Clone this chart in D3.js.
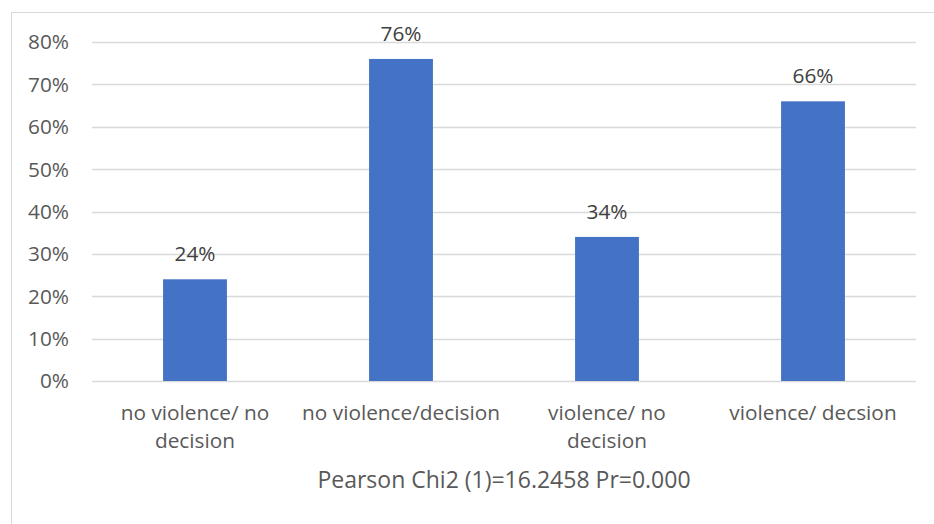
<!DOCTYPE html>
<html><head><meta charset="utf-8">
<script src="https://cdn.jsdelivr.net/npm/d3@7"></script>
<style>body{margin:0;background:#fff}svg{display:block}</style>
</head><body>
<script>
const categories = [["no violence/ no","decision"],["no violence/decision"],["violence/ no","decision"],["violence/ decsion"]];
const values = [0.24, 0.76, 0.34, 0.66];
const yTicks = [0,0.1,0.2,0.3,0.4,0.5,0.6,0.7,0.8];
const title = "Pearson Chi2 (1)=16.2458 Pr=0.000";

const W=934,H=524;
const m={left:92,right:18,top:42,bottom:143};
const svg=d3.select("body").append("svg").attr("width",W).attr("height",H);
svg.append("rect").attr("x",11.5).attr("y",12.5).attr("width",W).attr("height",H).attr("fill","#fff").attr("stroke","#d9d9d9");
const font="'Open Sans', sans-serif";
const fs=20.8;
const x=d3.scaleBand().domain(d3.range(categories.length)).range([m.left,W-m.right]).paddingInner(0.69).paddingOuter(0.345);
const y=d3.scaleLinear().domain([0,0.8]).range([H-m.bottom,m.top]);
const g=svg.append("g");
g.selectAll("line.grid").data(yTicks).join("line").attr("x1",m.left).attr("x2",W-m.right)
 .attr("y1",d=>Math.round(y(d))+0.5).attr("y2",d=>Math.round(y(d))+0.5).attr("stroke","#d9d9d9").attr("stroke-width",1.3);
g.selectAll("text.tick").data(yTicks).join("text").attr("x",69).attr("y",d=>y(d)).attr("dy","0.36em")
 .attr("text-anchor","end").attr("font-family",font).attr("font-size",fs).attr("fill","#595959").text(d3.format(".0%"));
g.selectAll("rect.bar").data(values).join("rect").attr("x",(d,i)=>x(i)).attr("width",x.bandwidth())
 .attr("y",d=>y(d)).attr("height",d=>y(0)-y(d)).attr("fill","#4472c4");
g.selectAll("text.val").data(values).join("text").attr("x",(d,i)=>x(i)+x.bandwidth()/2).attr("y",d=>y(d)-18)
 .attr("text-anchor","middle").attr("font-family",font).attr("font-size",fs).attr("fill","#404040").text(d3.format(".0%"));
const xl=g.selectAll("text.cat").data(categories).join("text").attr("x",(d,i)=>x(i)+x.bandwidth()/2).attr("y",420)
 .attr("text-anchor","middle").attr("font-family",font).attr("font-size",fs).attr("fill","#595959");
xl.selectAll("tspan").data(d=>d).join("tspan").attr("x",function(){return this.parentNode.getAttribute("x")}).attr("dy",(d,i)=>i?28:0).text(d=>d);
g.append("text").attr("x",(m.left+W-m.right)/2).attr("y",488).attr("text-anchor","middle").attr("font-family",font)
 .attr("font-size",23).attr("fill","#595959").text(title);
</script>
</body></html>
